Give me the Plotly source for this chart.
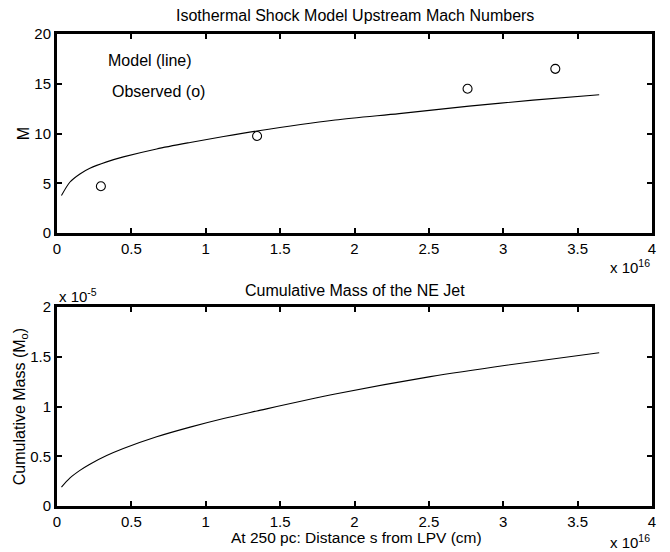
import plotly.graph_objects as go

# Distance s in units of 1e16 cm
s_model = [0.03, 0.086, 0.154, 0.221, 0.334, 0.446, 0.67, 0.895, 1.12, 1.344, 1.87, 2.3, 2.77, 3.2, 3.645]
mach_model = [3.76, 5.1, 5.93, 6.5, 7.15, 7.65, 8.45, 9.1, 9.7, 10.25, 11.35, 12.0, 12.75, 13.35, 13.9]

s_obs = [0.295, 1.345, 2.76, 3.35]
mach_obs = [4.7, 9.75, 14.5, 16.5]

s_mass = [0.03, 0.086, 0.154, 0.221, 0.334, 0.446, 0.67, 0.895, 1.12, 1.344, 1.87, 2.51, 3.02, 3.645]
mass = [0.19, 0.28, 0.358, 0.42, 0.507, 0.578, 0.696, 0.793, 0.88, 0.955, 1.125, 1.30, 1.415, 1.54]  # x 1e-5

x_ticks = [0, 0.5, 1, 1.5, 2, 2.5, 3, 3.5, 4]
x_tick_text = ["0", "0.5", "1", "1.5", "2", "2.5", "3", "3.5", "4"]
m_ticks = [0, 5, 10, 15, 20]
mass_ticks = [0, 0.5, 1, 1.5, 2]
mass_tick_text = ["0", "0.5", "1", "1.5", "2"]

FONT = "Liberation Sans, Arial, Helvetica, sans-serif"
W, H = 670, 552
ml, mr, mt, mb = 57, 18, 34, 46
ph = H - mt - mb
top_dom = [(506 - 233) / ph, 1.0]
bot_dom = [0.0, 199 / ph]

fig = go.Figure()
fig.add_trace(go.Scatter(x=s_model, y=mach_model, mode="lines", line=dict(color="black", width=1.1, shape="spline", smoothing=0.8),
                         xaxis="x", yaxis="y", showlegend=False))
fig.add_trace(go.Scatter(x=s_obs, y=mach_obs, mode="markers",
                         marker=dict(symbol="circle-open", size=9, color="black", line=dict(width=1.1)),
                         xaxis="x", yaxis="y", showlegend=False))
fig.add_trace(go.Scatter(x=s_mass, y=mass, mode="lines", line=dict(color="black", width=1.1, shape="spline", smoothing=0.8),
                         xaxis="x2", yaxis="y2", showlegend=False))

axis_common = dict(showgrid=False, zeroline=False, showline=True, linecolor="black", linewidth=3,
                   mirror="allticks", ticks="inside", ticklen=5, tickwidth=2, tickcolor="black",
                   tickfont=dict(family=FONT, size=15, color="black"))

fig.update_layout(
    width=W, height=H,
    margin=dict(l=ml, r=mr, t=mt, b=mb),
    paper_bgcolor="white", plot_bgcolor="white",
    font=dict(family=FONT, color="black"),
    xaxis=dict(domain=[0, 1], range=[0, 4], tickvals=x_ticks, ticktext=x_tick_text, anchor="y", **axis_common),
    yaxis=dict(domain=top_dom, range=[0, 20], tickvals=m_ticks, anchor="x",
               title=dict(text="M", font=dict(family=FONT, size=16), standoff=1), **axis_common),
    xaxis2=dict(domain=[0, 1], range=[0, 4], tickvals=x_ticks, ticktext=x_tick_text, anchor="y2", **axis_common),
    yaxis2=dict(domain=bot_dom, range=[0, 2], tickvals=mass_ticks, ticktext=mass_tick_text, anchor="x2",
                title=dict(text="Cumulative Mass (M<sub>o</sub>)", font=dict(family=FONT, size=16), standoff=0),
                **axis_common),
)

fig.add_annotation(text="Isothermal Shock Model Upstream Mach Numbers", xref="paper", yref="paper",
                   x=0.5, y=1, yshift=8, xanchor="center", yanchor="bottom", showarrow=False,
                   font=dict(family=FONT, size=16))
fig.add_annotation(text="Cumulative Mass of the NE Jet", xref="paper", yref="paper",
                   x=0.5, y=bot_dom[1], yshift=6, xanchor="center", yanchor="bottom", showarrow=False,
                   font=dict(family=FONT, size=16))
fig.add_annotation(text="At 250 pc: Distance s from LPV (cm)", xref="paper", yref="paper",
                   x=0.503, y=0, yshift=-21, xanchor="center", yanchor="top", showarrow=False,
                   font=dict(family=FONT, size=15.5))
fig.add_annotation(text="Model (line)", xref="x", yref="y", x=0.33, y=17.3, xanchor="left", yanchor="middle",
                   showarrow=False, font=dict(family=FONT, size=16))
fig.add_annotation(text="Observed (o)", xref="x", yref="y", x=0.355, y=14.2, xanchor="left", yanchor="middle",
                   showarrow=False, font=dict(family=FONT, size=16))
fig.add_annotation(text="x 10<sup>16</sup>", xref="paper", yref="paper", x=1, y=top_dom[0], yshift=-22,
                   xanchor="right", yanchor="top", showarrow=False, font=dict(family=FONT, size=15))
fig.add_annotation(text="x 10<sup>16</sup>", xref="paper", yref="paper", x=1, y=0, yshift=-24,
                   xanchor="right", yanchor="top", showarrow=False, font=dict(family=FONT, size=15))
fig.add_annotation(text="x 10<sup>-5</sup>", xref="paper", yref="paper", x=0, y=bot_dom[1], yshift=0,
                   xanchor="left", yanchor="bottom", showarrow=False, font=dict(family=FONT, size=15))

fig.write_html("out.html")
